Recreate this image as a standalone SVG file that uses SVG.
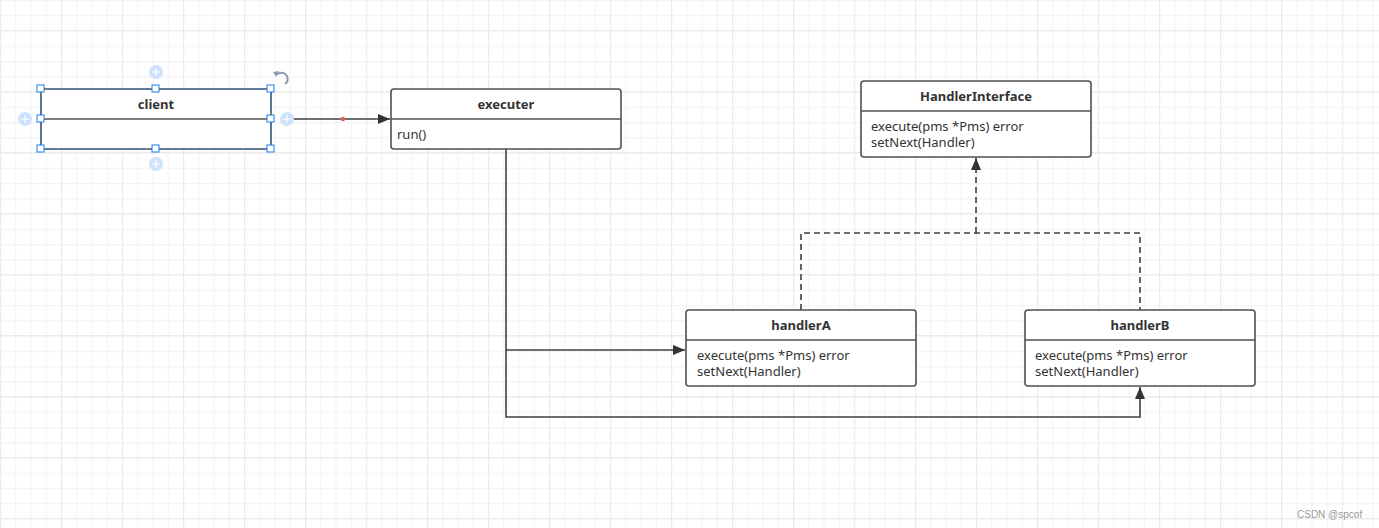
<svg xmlns="http://www.w3.org/2000/svg" width="1379" height="528" viewBox="0 0 1379 528">
<style>
.box{fill:#fff;stroke:#505050;stroke-width:1.6}
.div{stroke:#505050;stroke-width:1.6}
.t{font-family:"Noto Sans","Open Sans",sans-serif;font-size:13px;font-weight:bold;fill:#333;text-anchor:middle}
.b{font-family:"Noto Sans","Open Sans",sans-serif;font-size:13px;fill:#333}
.ln{fill:none;stroke:#404040;stroke-width:1.6}
.dash{fill:none;stroke:#404040;stroke-width:1.6;stroke-dasharray:6,4}
.h{fill:#fff;stroke:#1a7ee8;stroke-width:1}
.pc{fill:#cfe2fb}
.pl{stroke:#fff;stroke-width:1.2}
</style>
<defs>
<pattern id="minor" width="15.25" height="15.25" patternUnits="userSpaceOnUse" x="0" y="0">
<path d="M0.5 0V15.25M0 0.5H15.25" stroke="#f3f3f3" stroke-width="1.2" fill="none"/>
</pattern>
<pattern id="major" width="61" height="61" patternUnits="userSpaceOnUse" x="0" y="30">
<path d="M0.5 0V61M0 0.5H61" stroke="#ebebeb" stroke-width="1.4" fill="none"/>
</pattern>
<marker id="arr" markerWidth="13" markerHeight="11" refX="12" refY="5.5" orient="auto" markerUnits="userSpaceOnUse">
<path d="M0,0.5 L12,5.5 L0,10.5 Z" fill="#333"/>
</marker>
</defs>
<rect width="1379" height="528" fill="#fff"/>
<rect width="1379" height="528" fill="url(#minor)"/>
<rect width="1379" height="528" fill="url(#major)"/>

<g id="connectors">
<line class="ln" x1="287" y1="119" x2="390" y2="119" marker-end="url(#arr)"/>
<circle cx="343" cy="119" r="2.2" fill="#e05a5a"/>
<polyline class="ln" points="506,149 506,417 1140,417 1140,387" marker-end="url(#arr)"/>
<line class="ln" x1="506" y1="350" x2="685" y2="350" marker-end="url(#arr)"/>
<polyline class="dash" points="801,310 801,233 1140,233 1140,310"/>
<line class="dash" x1="976" y1="233" x2="976" y2="158" marker-end="url(#arr)"/>
</g>

<g id="client">
<rect class="box" x="41" y="89" width="230" height="60" rx="1"/>
<line class="div" x1="41" y1="119" x2="271" y2="119"/>
<rect x="41" y="89" width="230" height="60" fill="none" stroke="#1a7ee8" stroke-width="1" stroke-dasharray="4,4"/>
<text class="t" x="156" y="109">client</text>
<rect class="h" x="37" y="85" width="7" height="7"/>
<rect class="h" x="152" y="85" width="7" height="7"/>
<rect class="h" x="267" y="85" width="7" height="7"/>
<rect class="h" x="37" y="115" width="7" height="7"/>
<rect class="h" x="267" y="115" width="7" height="7"/>
<rect class="h" x="37" y="145" width="7" height="7"/>
<rect class="h" x="152" y="145" width="7" height="7"/>
<rect class="h" x="267" y="145" width="7" height="7"/>
<circle class="pc" cx="156" cy="72" r="7"/><path class="pl" d="M152 72H160M156 68V76"/>
<circle class="pc" cx="156" cy="164" r="7"/><path class="pl" d="M152 164H160M156 160V168"/>
<circle class="pc" cx="25" cy="119" r="7"/><path class="pl" d="M21 119H29M25 115V123"/>
<circle class="pc" cx="287" cy="119" r="7"/><path class="pl" d="M283 119H291M287 115V123"/>
<path d="M276 75 Q283 70 287 76 Q289 81 285 84" fill="none" stroke="#8c9bb5" stroke-width="2"/>
<path d="M273 72 L279 71 L276 77 Z" fill="#8c9bb5"/>
</g>

<g id="executer">
<rect class="box" x="391" y="89" width="230" height="60" rx="3"/>
<line class="div" x1="391" y1="119" x2="621" y2="119"/>
<text class="t" x="506" y="109">executer</text>
<text class="b" x="397" y="139">run()</text>
</g>

<g id="HandlerInterface">
<rect class="box" x="861" y="81" width="230" height="76" rx="3"/>
<line class="div" x1="861" y1="111" x2="1091" y2="111"/>
<text class="t" x="976" y="101">HandlerInterface</text>
<text class="b" x="871" y="131">execute(pms *Pms) error</text>
<text class="b" x="871" y="147">setNext(Handler)</text>
</g>

<g id="handlerA">
<rect class="box" x="686" y="310" width="230" height="76" rx="3"/>
<line class="div" x1="686" y1="340" x2="916" y2="340"/>
<text class="t" x="801" y="330">handlerA</text>
<text class="b" x="697" y="360">execute(pms *Pms) error</text>
<text class="b" x="697" y="376">setNext(Handler)</text>
</g>

<g id="handlerB">
<rect class="box" x="1025" y="310" width="230" height="76" rx="3"/>
<line class="div" x1="1025" y1="340" x2="1255" y2="340"/>
<text class="t" x="1140" y="330">handlerB</text>
<text class="b" x="1035" y="360">execute(pms *Pms) error</text>
<text class="b" x="1035" y="376">setNext(Handler)</text>
</g>

<text x="1297" y="518" font-family="'Liberation Sans',sans-serif" font-size="10px" fill="#999">CSDN @spcof</text>
</svg>
